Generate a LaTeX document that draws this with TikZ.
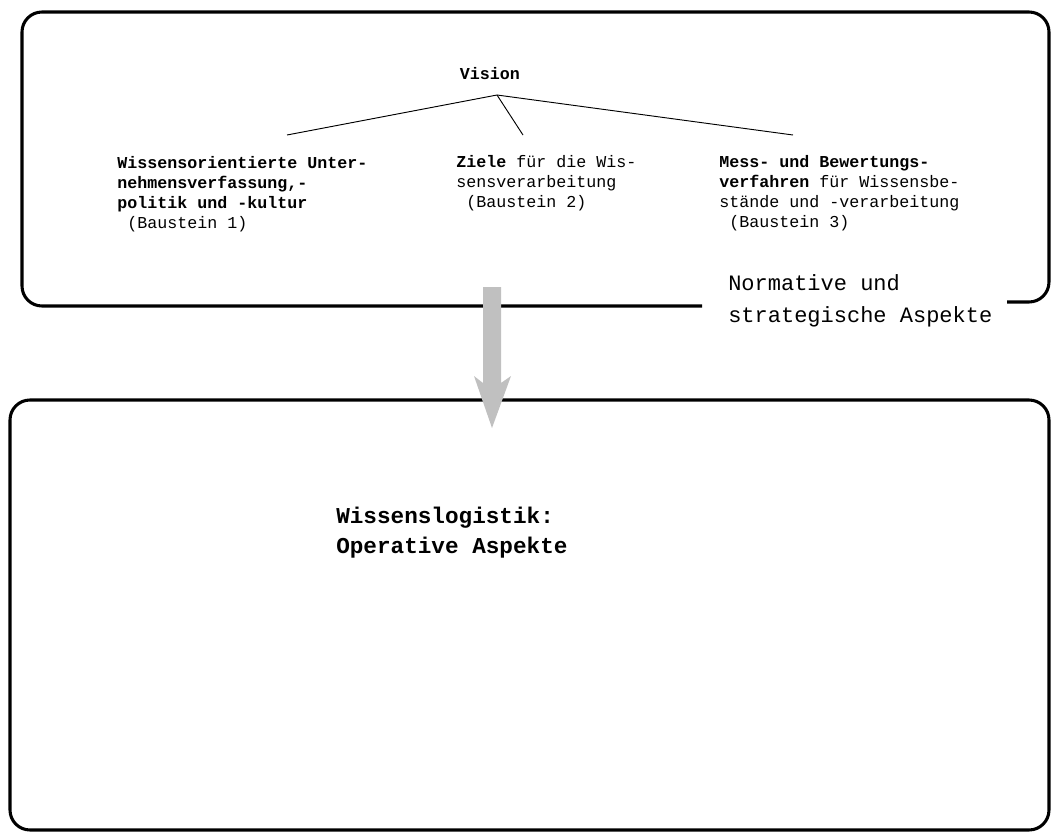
\documentclass[tikz,border=0pt]{standalone}
\usepackage{fontspec}
\setmainfont{Liberation Mono}
\definecolor{pfeilgrau}{HTML}{C0C0C0}
\tikzset{
  rahmen/.style={line width=2.3pt, rounded corners=15pt},
  linie/.style={line width=0.7pt},
  baustein/.style={anchor=base west, align=left, inner sep=0pt,
    font=\fontsize{12.5}{15}\selectfont},
  gross/.style={anchor=base west, align=left, inner sep=0pt,
    font=\fontsize{16.5}{24}\selectfont},
}
\begin{document}
\begin{tikzpicture}[x=0.75pt, y=-0.75pt]
    % Seitengröße festlegen
    \useasboundingbox (0,0) rectangle (1051,832);

    % Oberer Rahmen, unten rechts offen für die Beschriftung
    \draw[rahmen] (702,306) -- (22,306) -- (22,12) -- (1049,12) -- (1049,302) -- (1007,302);

    % Unterer Rahmen
    \draw[rahmen] (10,830) -- (10,400) -- (1049,400) -- (1049,830) -- cycle;

    % Vision und die drei Bausteine (Anker: Grundlinie der letzten Zeile)
    \node[baustein, anchor=base, font=\bfseries\fontsize{12.5}{15}\selectfont] (vision) at (490,79) {Vision};
    \node[baustein] (b1) at (117,228) {\textbf{Wissensorientierte Unter-}\\
      \textbf{nehmensverfassung,-}\\ \textbf{politik und -kultur}\\ \ (Baustein 1)};
    \node[baustein] (b2) at (456,207) {\textbf{Ziele} für die Wis-\\
      sensverarbeitung\\ \ (Baustein 2)};
    \node[baustein] (b3) at (719,227) {\textbf{Mess- und Bewertungs-}\\
      \textbf{verfahren} für Wissensbe-\\ stände und -verarbeitung\\ \ (Baustein 3)};

    % Linien von der Vision zu den Bausteinen
    \coordinate (spitze) at (497,95);
    \coordinate (e1) at (287,135);
    \coordinate (e2) at (523,135);
    \coordinate (e3) at (793,135);
    \draw[linie] (e1) -- (spitze) -- (e3);
    \draw[linie] (spitze) -- (e2);

    % Beschriftungen der Ebenen
    \node[gross] (normativ) at (728,322) {Normative und\\ strategische Aspekte};
    \node[gross, font=\bfseries\fontsize{17}{22.5}\selectfont] (operativ) at (336,553) {Wissenslogistik:\\ Operative Aspekte};

    % Grauer Pfeil zwischen den Ebenen
    \fill[pfeilgrau] (483,287) -- (501,287) -- (501,383) -- (511,376) -- (492,428)
      -- (474,376) -- (483,383) -- cycle;
\end{tikzpicture}
\end{document}
